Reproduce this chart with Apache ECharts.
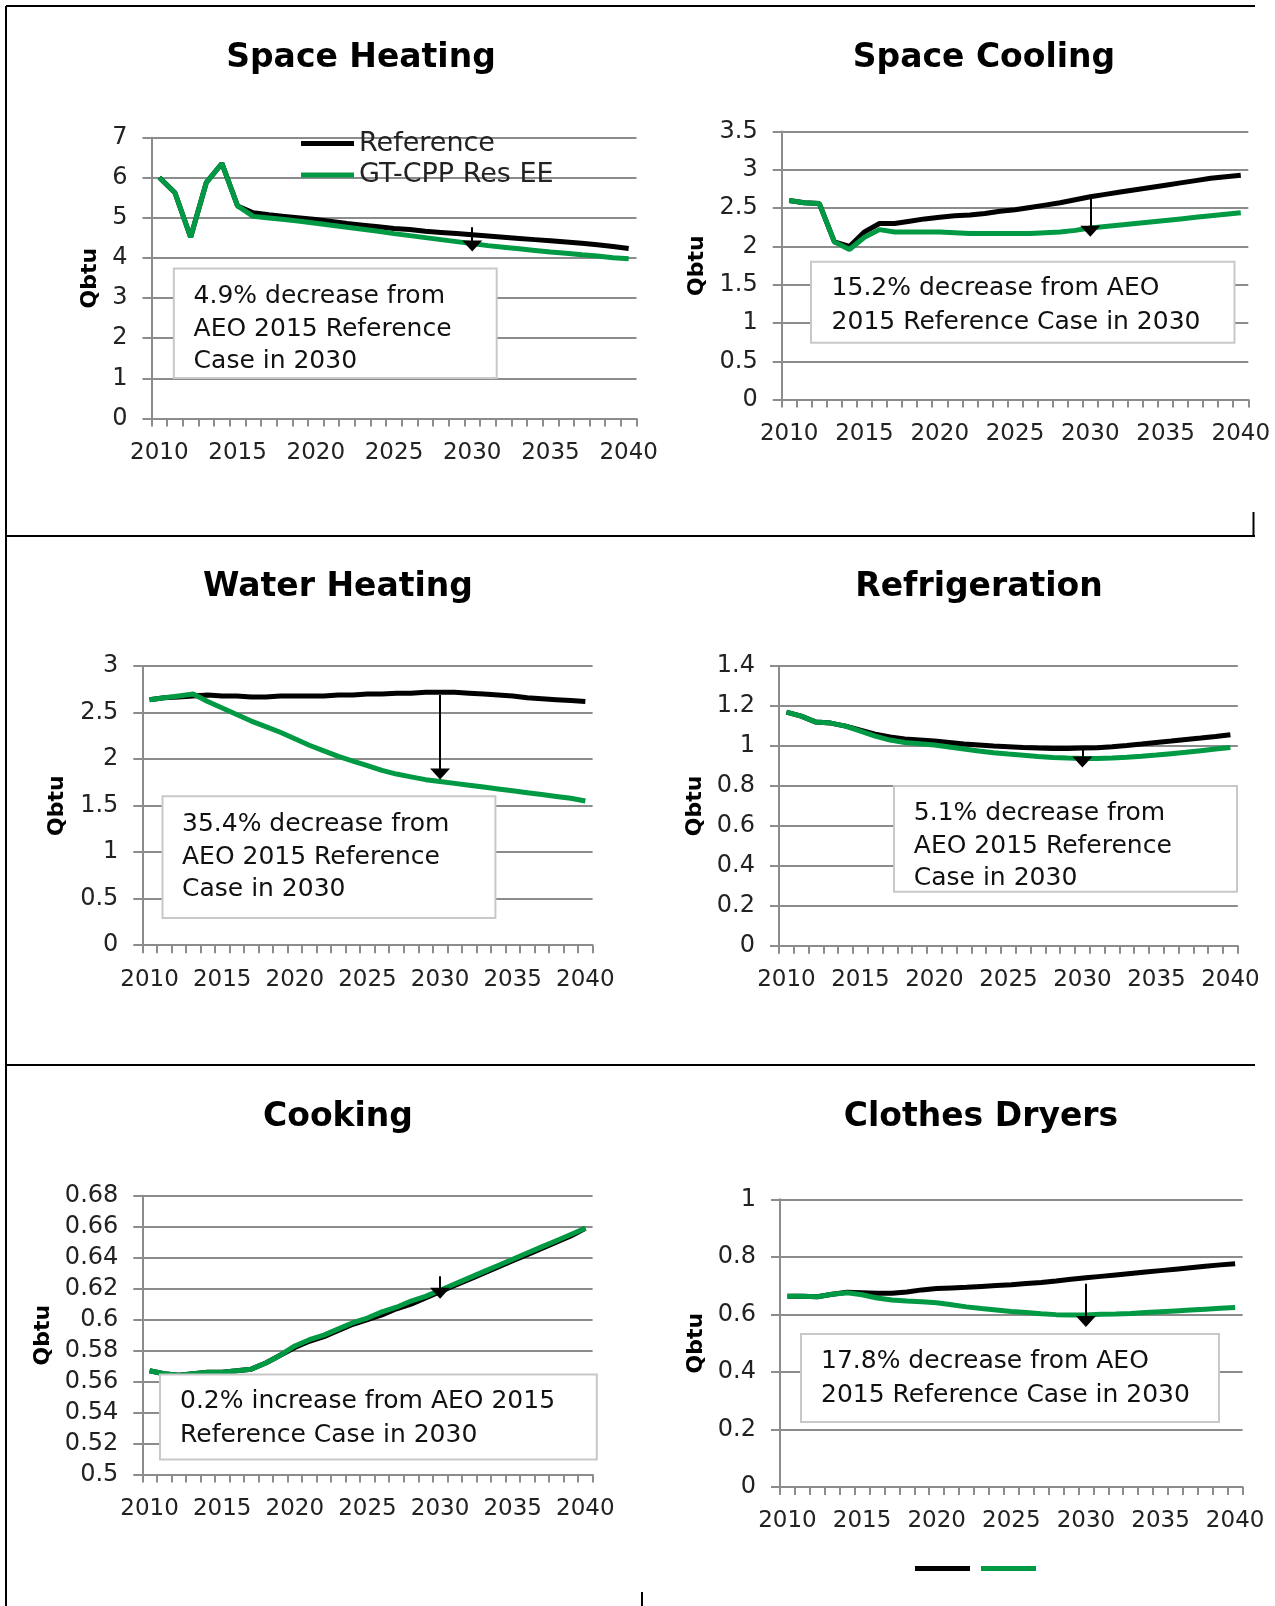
<!DOCTYPE html>
<html>
<head>
<meta charset="utf-8">
<script src="https://cdn.jsdelivr.net/npm/echarts@6/dist/echarts.min.js"></script>
<style>
html,body{margin:0;padding:0;background:#fff;}
#chart{width:1275px;height:1606px;}
</style>
</head>
<body>
<div id="chart"></div>
<script>
// ---------- DATA ----------
const years = ['2010','2011','2012','2013','2014','2015','2016','2017','2018','2019','2020',
  '2021','2022','2023','2024','2025','2026','2027','2028','2029','2030',
  '2031','2032','2033','2034','2035','2036','2037','2038','2039','2040'];

const panelTitles = ['Space Heating','Space Cooling','Water Heating','Refrigeration','Cooking','Clothes Dryers'];
const seriesNames = ['Reference','GT-CPP Res EE'];
const axisName = 'Qbtu';

const heatingRef = [6.01,5.63,4.52,5.88,6.36,5.30,5.13,5.08,5.04,5.00,4.96,4.91,4.86,4.82,4.78,4.74,4.71,4.67,4.64,4.61,4.58,4.55,4.52,4.49,4.46,4.43,4.40,4.37,4.33,4.29,4.24];
const heatingEE  = [6.01,5.63,4.52,5.88,6.36,5.30,5.04,5.00,4.96,4.92,4.87,4.82,4.77,4.72,4.67,4.61,4.56,4.51,4.46,4.41,4.36,4.31,4.27,4.23,4.19,4.15,4.12,4.08,4.05,4.01,3.98];

const coolingRef = [2.60,2.57,2.56,2.06,2.00,2.19,2.30,2.30,2.33,2.36,2.38,2.40,2.41,2.43,2.46,2.48,2.51,2.54,2.57,2.61,2.65,2.68,2.71,2.74,2.77,2.80,2.83,2.86,2.89,2.91,2.93];
const coolingEE  = [2.60,2.57,2.56,2.06,1.96,2.12,2.22,2.19,2.19,2.19,2.19,2.18,2.17,2.17,2.17,2.17,2.17,2.18,2.19,2.21,2.24,2.26,2.28,2.30,2.32,2.34,2.36,2.38,2.40,2.42,2.44];

const waterRef = [2.64,2.66,2.67,2.68,2.69,2.68,2.68,2.67,2.67,2.68,2.68,2.68,2.68,2.69,2.69,2.70,2.70,2.71,2.71,2.72,2.72,2.72,2.71,2.70,2.69,2.68,2.66,2.65,2.64,2.63,2.62];
const waterEE  = [2.64,2.66,2.68,2.70,2.62,2.55,2.48,2.41,2.35,2.29,2.22,2.15,2.09,2.03,1.98,1.93,1.88,1.84,1.81,1.78,1.76,1.74,1.72,1.70,1.68,1.66,1.64,1.62,1.60,1.58,1.55];

const fridgeRef = [1.17,1.15,1.12,1.115,1.10,1.08,1.06,1.045,1.035,1.03,1.025,1.018,1.01,1.005,1.00,0.997,0.993,0.99,0.988,0.988,0.99,0.992,0.997,1.003,1.01,1.018,1.025,1.033,1.04,1.048,1.057];
const fridgeEE  = [1.17,1.15,1.12,1.115,1.10,1.075,1.05,1.03,1.018,1.012,1.005,0.995,0.985,0.975,0.967,0.96,0.954,0.948,0.943,0.94,0.938,0.938,0.94,0.944,0.949,0.955,0.962,0.969,0.977,0.985,0.993];

const cookingRef = [0.567,0.565,0.564,0.565,0.566,0.566,0.567,0.568,0.572,0.577,0.582,0.586,0.589,0.593,0.597,0.600,0.603,0.607,0.610,0.614,0.618,0.622,0.626,0.630,0.634,0.638,0.642,0.646,0.650,0.654,0.659];
const cookingEE  = [0.567,0.565,0.564,0.565,0.566,0.566,0.567,0.568,0.572,0.577,0.583,0.587,0.590,0.594,0.598,0.601,0.605,0.608,0.612,0.615,0.619,0.623,0.627,0.631,0.635,0.639,0.643,0.647,0.651,0.655,0.659];

const dryersRef = [0.663,0.663,0.661,0.670,0.677,0.675,0.673,0.673,0.678,0.685,0.690,0.692,0.694,0.697,0.700,0.703,0.707,0.711,0.716,0.722,0.727,0.732,0.737,0.742,0.747,0.752,0.757,0.762,0.767,0.772,0.776];
const dryersEE  = [0.663,0.663,0.661,0.670,0.675,0.668,0.657,0.650,0.646,0.644,0.640,0.633,0.626,0.620,0.615,0.610,0.606,0.602,0.599,0.598,0.598,0.600,0.601,0.603,0.606,0.609,0.612,0.615,0.618,0.621,0.624];

// y-axis ranges [min, max, interval]
const yMin = [0, 0, 0, 0, 0.5, 0];
const yMax = [7, 3.5, 3, 1.4, 0.68, 1];
const yStep = [1, 0.5, 0.5, 0.2, 0.02, 0.2];

// annotation arrows at 2030 (start value, tip value)
const arrowYear = '2030';
const arrowFrom = [4.77, 2.64, 2.69, 0.99, 0.628, 0.706];
const arrowTo   = [4.30, 2.20, 1.84, 0.92, 0.617, 0.575];

const notes = [
  ['4.9% decrease from','AEO 2015 Reference','Case in 2030'],
  ['15.2% decrease from AEO','2015 Reference Case in 2030'],
  ['35.4% decrease from','AEO 2015 Reference','Case in 2030'],
  ['5.1% decrease from','AEO 2015 Reference','Case in 2030'],
  ['0.2% increase from AEO 2015','Reference Case in 2030'],
  ['17.8% decrease from AEO','2015 Reference Case in 2030']
];

const refSeries = [heatingRef, coolingRef, waterRef, fridgeRef, cookingRef, dryersRef];
const eeSeries  = [heatingEE, coolingEE, waterEE, fridgeEE, cookingEE, dryersEE];

// ---------- LAYOUT ----------
const FONT = '"DejaVu Sans", sans-serif';
const BLACK = '#000000';
const GREEN = '#009944';
const GRIDC = '#8c8c8c';

const grids = [
  {left:151.5, top:137.8, width:485, height:280.6},
  {left:781.7, top:131.6, width:466.6, height:268},
  {left:142.3, top:666.2, width:450.3, height:279},
  {left:779, top:666.2, width:458.8, height:279.5},
  {left:142.3, top:1195.8, width:450.3, height:278.6},
  {left:780, top:1199.3, width:462.6, height:287.6}
];
const nameGaps = [50, 73, 74, 73, 88, 73];
const titlePos = [[356,53],[979,53],[333,582],[974,582],[333,1112],[976,1112]];
const boxes = [
  {x:173.8, y:268.6, w:322.9, h:109.4, tx:193.6, ly:[296,329,361.6]},
  {x:811, y:261.8, w:423.5, h:80.9, tx:831.6, ly:[288.6,322]},
  {x:162.5, y:796.3, w:332.9, h:121.7, tx:182, ly:[824.7,857.2,889]},
  {x:894, y:786, w:343, h:105.7, tx:913.8, ly:[813,846,878]},
  {x:160, y:1374.4, w:436.8, h:85, tx:180, ly:[1401,1435]},
  {x:801, y:1334, w:418, h:88, tx:821, ly:[1361,1395]}
];

const option = {
  backgroundColor:'#ffffff',
  animation:false,
  title: panelTitles.map((t,i)=>({
    text:t, left:titlePos[i][0], top:titlePos[i][1]-20, textAlign:'center',
    textStyle:{fontFamily:FONT, fontWeight:'bold', fontSize:33, lineHeight:40, color:'#000'}
  })),
  legend:[
    {data:seriesNames, orient:'vertical', left:301, top:130, padding:0,
     itemWidth:53, itemHeight:5, itemGap:4.5, icon:'rect',
     textStyle:{fontFamily:FONT, fontSize:27, lineHeight:27, color:'#222'}},
    {data:seriesNames, orient:'horizontal', left:915, top:1566, padding:0,
     itemWidth:55, itemHeight:5, itemGap:11, icon:'rect',
     formatter:function(){return '';}, textStyle:{fontSize:1}}
  ],
  grid: grids.map(g=>Object.assign({containLabel:false}, g)),
  xAxis: grids.map((g,i)=>({
    type:'category', gridIndex:i, data:years, boundaryGap:true,
    axisLine:{show:true, lineStyle:{color:GRIDC, width:2}},
    axisTick:{show:true, interval:0, length:8, lineStyle:{color:GRIDC, width:2}},
    axisLabel:{interval:4, margin:23, fontFamily:FONT, fontSize:23, color:'#222'},
    splitLine:{show:false}
  })),
  yAxis: grids.map((g,i)=>({
    type:'value', gridIndex:i, min:yMin[i], max:yMax[i], interval:yStep[i],
    name:axisName, nameLocation:'middle', nameRotate:90, nameGap:nameGaps[i],
    nameTextStyle:{fontFamily:FONT, fontWeight:'bold', fontSize:22, color:'#000'},
    axisLine:{show:true, lineStyle:{color:GRIDC, width:2}},
    axisTick:{show:true, length:9, lineStyle:{color:GRIDC, width:2}},
    axisLabel:{margin:24, fontFamily:FONT, fontSize:24, color:'#222'},
    splitLine:{show:true, lineStyle:{color:GRIDC, width:2}}
  })),
  series: [],
  graphic: []
};

for (let i=0;i<6;i++){
  option.series.push({
    name:seriesNames[0], type:'line', xAxisIndex:i, yAxisIndex:i,
    data:refSeries[i], showSymbol:false, symbol:'none', z:2,
    lineStyle:{color:BLACK, width:5}, itemStyle:{color:BLACK},
    markLine:{
      silent:true, symbol:['none','triangle'], symbolSize:[20,11],
      label:{show:false}, lineStyle:{color:BLACK, width:2, type:'solid'},
      z:10,
      data:[[{coord:[arrowYear, arrowFrom[i]]},{coord:[arrowYear, arrowTo[i]]}]]
    }
  });
  option.series.push({
    name:seriesNames[1], type:'line', xAxisIndex:i, yAxisIndex:i,
    data:eeSeries[i], showSymbol:false, symbol:'none', z:3,
    lineStyle:{color:GREEN, width:5}, itemStyle:{color:GREEN}
  });
  const b = boxes[i];
  option.graphic.push({
    type:'rect', z:50, shape:{x:b.x, y:b.y, width:b.w, height:b.h},
    style:{fill:'#ffffff', stroke:'#c8c8c8', lineWidth:2}
  });
  notes[i].forEach((line,k)=>{
    option.graphic.push({
      type:'text', z:51, x:b.tx, y:b.ly[k],
      style:{text:line, font:'25px ' + FONT, fill:'#111', verticalAlign:'middle', align:'left'}
    });
  });
}

// page frame lines
const frame = [
  [6,6,1255,6],[6,6,6,1606],[6,536,1255,536],[1253.5,512,1253.5,536],
  [6,1065,1255,1065],[642,1592,642,1606]
];
frame.forEach(f=>{
  option.graphic.push({type:'line', z:60, shape:{x1:f[0],y1:f[1],x2:f[2],y2:f[3]},
    style:{stroke:'#000', lineWidth:2}});
});

const chart = echarts.init(document.getElementById('chart'), null, {renderer:'canvas'});
chart.setOption(option);
</script>
</body>
</html>
